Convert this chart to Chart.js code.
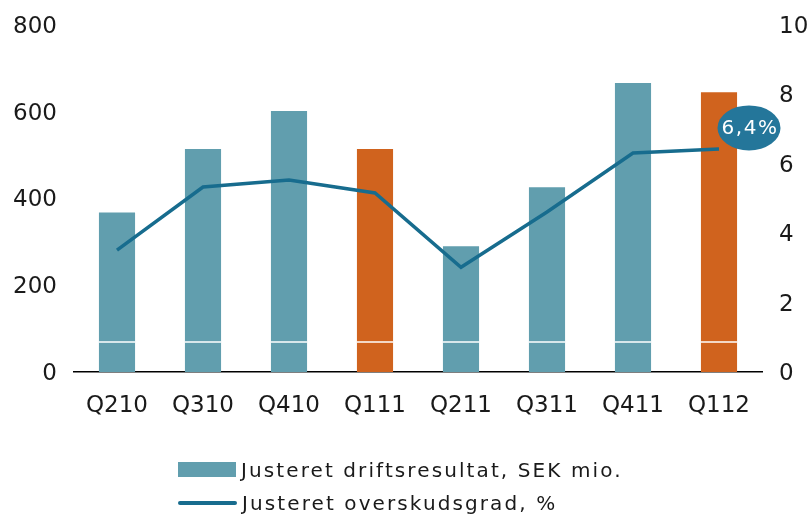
<!DOCTYPE html>
<html>
<head>
<meta charset="utf-8">
<script src="https://cdn.jsdelivr.net/npm/chart.js@4.4.1/dist/chart.umd.min.js"></script>
<style>
  body { margin: 0; background: #fff; }
  #wrap { position: relative; width: 811px; height: 516px; }
  .legend { position: absolute; left: 178px; top: 453px; font-family: "DejaVu Sans", sans-serif;
    font-size: 20px; letter-spacing: 2.1px; color: #1a1a1a; }
  .row { display: flex; align-items: center; height: 33px; }
  .sw { width: 58px; height: 15px; margin-right: 5px; }
  .ln { width: 59px; height: 4px; border-radius: 2px; margin-right: 5px; }
</style>
</head>
<body>
<div id="wrap">
  <canvas class="js-chart"></canvas>
  <div class="legend">
    <div class="row"><span class="sw" id="sw1"></span><span id="lab1"></span></div>
    <div class="row"><span class="ln" id="sw2"></span><span id="lab2"></span></div>
  </div>
</div>
<script>
const ctx = document.querySelector(".js-chart").getContext("2d");

// ===== data =====
const quarters = ["Q210", "Q310", "Q410", "Q111", "Q211", "Q311", "Q411", "Q112"];
const driftsresultat = [368, 514, 602, 514, 290, 426, 666, 645];
const overskudsgrad = [3.51, 5.33, 5.53, 5.16, 3.02, 4.61, 6.31, 6.43];
const barColors = ["#619eae", "#619eae", "#619eae", "#d0631e", "#619eae", "#619eae", "#619eae", "#d0631e"];
const leftTicks = [0, 200, 400, 600, 800];
const rightTicks = [0, 2, 4, 6, 8, 10];
const bandValue = 69; // white band across the bars
const badgeText = "6,4%";
const barLabel = "Justeret driftsresultat, SEK mio.";
const lineLabel = "Justeret overskudsgrad, %";

const TEAL = "#619eae";
const LINE = "#176c8e";
const BADGE = "#24769a";

document.getElementById("sw1").style.background = TEAL;
document.getElementById("sw2").style.background = LINE;
document.getElementById("lab1").textContent = barLabel;
document.getElementById("lab2").textContent = lineLabel;

// white line over the bars
const bandPlugin = {
  id: "band",
  afterDatasetsDraw(chart) {
    const y = chart.scales.y.getPixelForValue(bandValue);
    const meta = chart.getDatasetMeta(0);
    const c = chart.ctx;
    c.save();
    c.strokeStyle = "#fff";
    c.lineWidth = 1.5;
    meta.data.forEach((bar) => {
      c.beginPath();
      c.moveTo(bar.x - bar.width / 2, y);
      c.lineTo(bar.x + bar.width / 2, y);
      c.stroke();
    });
    c.restore();
  },
};

// the 6,4% bubble at the last point
const badgePlugin = {
  id: "badge",
  afterDraw(chart) {
    const pts = chart.getDatasetMeta(1).data;
    const p = pts[pts.length - 1];
    const c = chart.ctx;
    const cx = p.x + 30;
    const cy = p.y - 21;
    c.save();
    c.fillStyle = BADGE;
    c.beginPath();
    c.ellipse(cx, cy, 31.5, 22.5, 0, 0, Math.PI * 2);
    c.fill();
    c.fillStyle = "#fff";
    c.font = "20px 'DejaVu Sans'";
    c.letterSpacing = "1.5px";
    c.textAlign = "center";
    c.textBaseline = "middle";
    c.fillText(badgeText, cx + 1, cy + 1);
    c.restore();
  },
};

const tickFont = { family: "DejaVu Sans", size: 23 };

new Chart(ctx, {
  type: "bar",
  data: {
    labels: quarters,
    datasets: [
      {
        label: barLabel,
        data: driftsresultat,
        backgroundColor: barColors,
        yAxisID: "y",
        order: 2,
        categoryPercentage: 1,
        barPercentage: 0.42,
      },
      {
        type: "line",
        label: lineLabel,
        data: overskudsgrad,
        borderColor: LINE,
        borderWidth: 3.5,
        pointRadius: 0,
        tension: 0,
        yAxisID: "y1",
        order: 1,
      },
    ],
  },
  options: {
    responsive: true,
    maintainAspectRatio: false,
    animation: false,
    layout: { padding: { left: 14, right: 0, top: 25, bottom: 99 } },
    plugins: { legend: { display: false }, tooltip: { enabled: false } },
    scales: {
      x: {
        grid: { display: false, drawTicks: false },
        border: { display: true, color: "#000", width: 1.5 },
        ticks: { font: tickFont, color: "#1a1a1a", padding: 20 },
        afterFit: (s) => { s.height = 45; s.paddingLeft = 0; s.paddingRight = 0; },
      },
      y: {
        position: "left",
        min: 0,
        max: 800,
        afterBuildTicks: (s) => { s.ticks = leftTicks.map((v) => ({ value: v })); },
        grid: { display: false, drawTicks: false },
        border: { display: false },
        ticks: { font: tickFont, color: "#1a1a1a", padding: 17, labelOffset: 2 },
        afterFit: (s) => { s.width = 60; s.paddingTop = 0; s.paddingBottom = 0; },
      },
      y1: {
        position: "right",
        min: 0,
        max: 10,
        afterBuildTicks: (s) => { s.ticks = rightTicks.map((v) => ({ value: v })); },
        grid: { display: false, drawTicks: false },
        border: { display: false },
        ticks: { font: tickFont, color: "#1a1a1a", padding: 17, labelOffset: 2 },
        afterFit: (s) => { s.width = 49; s.paddingTop = 0; s.paddingBottom = 0; },
      },
    },
  },
  plugins: [bandPlugin, badgePlugin],
});
</script>
</body>
</html>
